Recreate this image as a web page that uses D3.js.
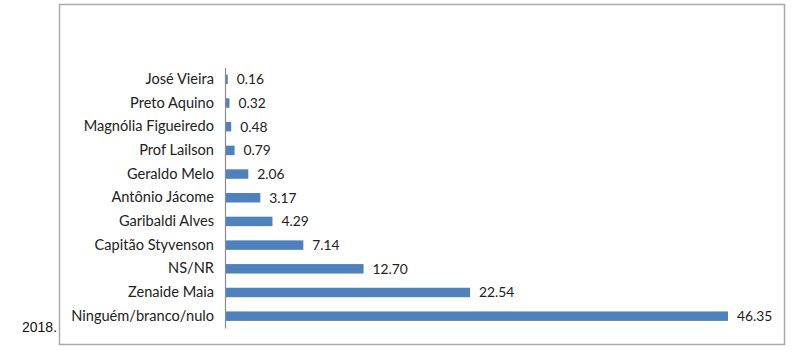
<!DOCTYPE html>
<html><head><meta charset="utf-8">
<script src="https://cdn.jsdelivr.net/npm/d3@7"></script>
<style>body{margin:0;background:#fff}svg{display:block}</style>
</head><body>
<script>
const categories = ["José Vieira","Preto Aquino","Magnólia Figueiredo","Prof Lailson","Geraldo Melo","Antônio Jácome","Garibaldi Alves","Capitão Styvenson","NS/NR","Zenaide Maia","Ninguém/branco/nulo"];
const values = [0.16,0.32,0.48,0.79,2.06,3.17,4.29,7.14,12.70,22.54,46.35];
const valueLabels = ["0.16","0.32","0.48","0.79","2.06","3.17","4.29","7.14","12.70","22.54","46.35"];

const W = 799, H = 363;
const svg = d3.select("body").append("svg").attr("width", W).attr("height", H);
const font = "Lato, 'Open Sans', sans-serif";

// outer chart border
svg.append("rect").attr("x", 59.5).attr("y", 4.5).attr("width", 725).attr("height", 340)
  .attr("fill", "none").attr("stroke", "#aaaaaa").attr("stroke-width", 1.5);

const x0 = 225;
const x = d3.scaleLinear().domain([0, 46.35]).range([x0, 727]);
const y = d3.scaleBand().domain(categories).range([67.5, 328]).paddingInner(0.6).paddingOuter(0.3);

svg.selectAll("rect.bar").data(categories).join("rect").attr("class","bar")
  .attr("x", x(0) + 1).attr("y", d => y(d))
  .attr("width", (d,i) => Math.max(0, x(values[i]) - x(0)))
  .attr("height", y.bandwidth()).attr("fill", "#4f81bd");

const axis = d3.axisLeft(y).tickSize(0).tickPadding(11);
const g = svg.append("g").attr("transform", `translate(${x0},0)`).call(axis);
g.select(".domain").attr("stroke", "#8c8c8c").attr("stroke-width", 1.2);
g.selectAll("text").attr("font-family", font).attr("font-size", 14.6).attr("fill", "#222");

svg.selectAll("text.val").data(categories).join("text").attr("class","val")
  .attr("x", (d,i) => x(values[i]) + 10).attr("y", d => y(d) + y.bandwidth()/2)
  .attr("dy", "0.35em").attr("font-family", font).attr("font-size", 13.8).attr("fill", "#222")
  .text((d,i) => valueLabels[i]);

svg.append("text").attr("x", 22).attr("y", 332).attr("font-family", "Arial, 'Liberation Sans', sans-serif")
  .attr("font-size", 14).attr("fill", "#111").text("2018.");
</script>
</body></html>
